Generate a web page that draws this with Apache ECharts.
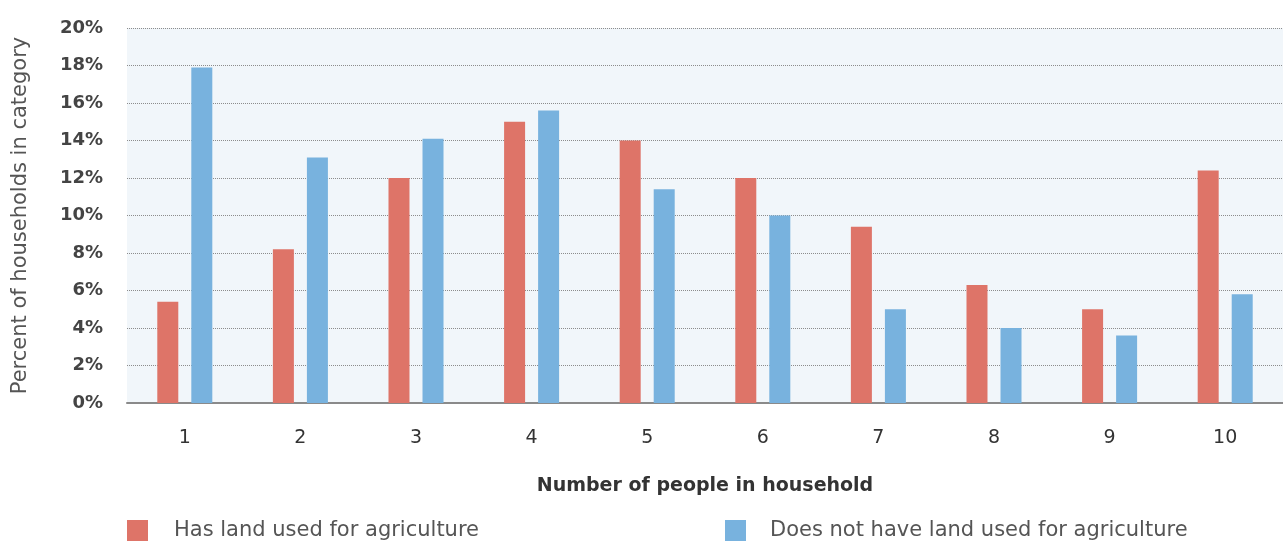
<!DOCTYPE html>
<html><head><meta charset="utf-8">
<script src="https://cdn.jsdelivr.net/npm/echarts@6/dist/echarts.min.js"></script>
<style>html,body{margin:0;padding:0;background:#fff}#c{width:1283px;height:541px}</style>
</head><body><div id="c"></div>
<script>
const categories = ['1','2','3','4','5','6','7','8','9','10'];
const hasLand = [5.4, 8.2, 12.0, 15.0, 14.0, 12.0, 9.4, 6.3, 5.0, 12.4];
const noLand = [17.9, 13.1, 14.1, 15.6, 11.4, 10.0, 5.0, 4.0, 3.6, 5.8];
const seriesNames = ['Has land used for agriculture', 'Does not have land used for agriculture'];
const yTicks = [0, 2, 4, 6, 8, 10, 12, 14, 16, 18, 20];

const FONT = '"DejaVu Sans", sans-serif';
const chart = echarts.init(document.getElementById('c'));
chart.setOption({
  animation: false,
  textStyle: { fontFamily: FONT },
  grid: { left: 127, right: 0, top: 28, bottom: 138, show: true, backgroundColor: '#f1f6fa', borderWidth: 0 },
  legend: [
    { data: [seriesNames[0]], left: 127, top: 520, padding: 0, itemWidth: 21, itemHeight: 21, icon: 'rect',
      textStyle: { fontSize: 21, color: '#555', fontFamily: FONT, padding: [0, 0, 0, 21] } },
    { data: [seriesNames[1]], left: 725, top: 520, padding: 0, itemWidth: 21, itemHeight: 21, icon: 'rect',
      textStyle: { fontSize: 21, color: '#555', fontFamily: FONT, padding: [0, 0, 0, 19] } }
  ],
  xAxis: {
    type: 'category', data: categories,
    name: 'Number of people in household', nameLocation: 'middle', nameGap: 74,
    nameTextStyle: { fontSize: 19, fontWeight: 600, color: '#333', fontFamily: FONT },
    axisLine: { lineStyle: { color: '#8a8a8a', width: 2 } },
    axisTick: { show: false },
    axisLabel: { fontSize: 19, color: '#333', margin: 26, fontFamily: FONT }
  },
  yAxis: {
    type: 'value', min: yTicks[0], max: yTicks[yTicks.length - 1], interval: 2,
    name: 'Percent of households in category', nameLocation: 'middle', nameGap: 96,
    nameTextStyle: { fontSize: 21, color: '#555', fontFamily: FONT },
    axisLine: { show: false }, axisTick: { show: false },
    axisLabel: { formatter: '{value}%', fontSize: 18, fontWeight: 600, color: '#444', margin: 24, fontFamily: FONT },
    splitLine: { lineStyle: { color: '#8c8c8c', type: [1, 1], width: 1 } }
  },
  series: [
    { name: seriesNames[0], type: 'bar', data: hasLand, barWidth: 21, barGap: '62%', itemStyle: { color: '#de7468' } },
    { name: seriesNames[1], type: 'bar', data: noLand, barWidth: 21, barGap: '62%', itemStyle: { color: '#78b2de' } }
  ]
});
</script></body></html>
